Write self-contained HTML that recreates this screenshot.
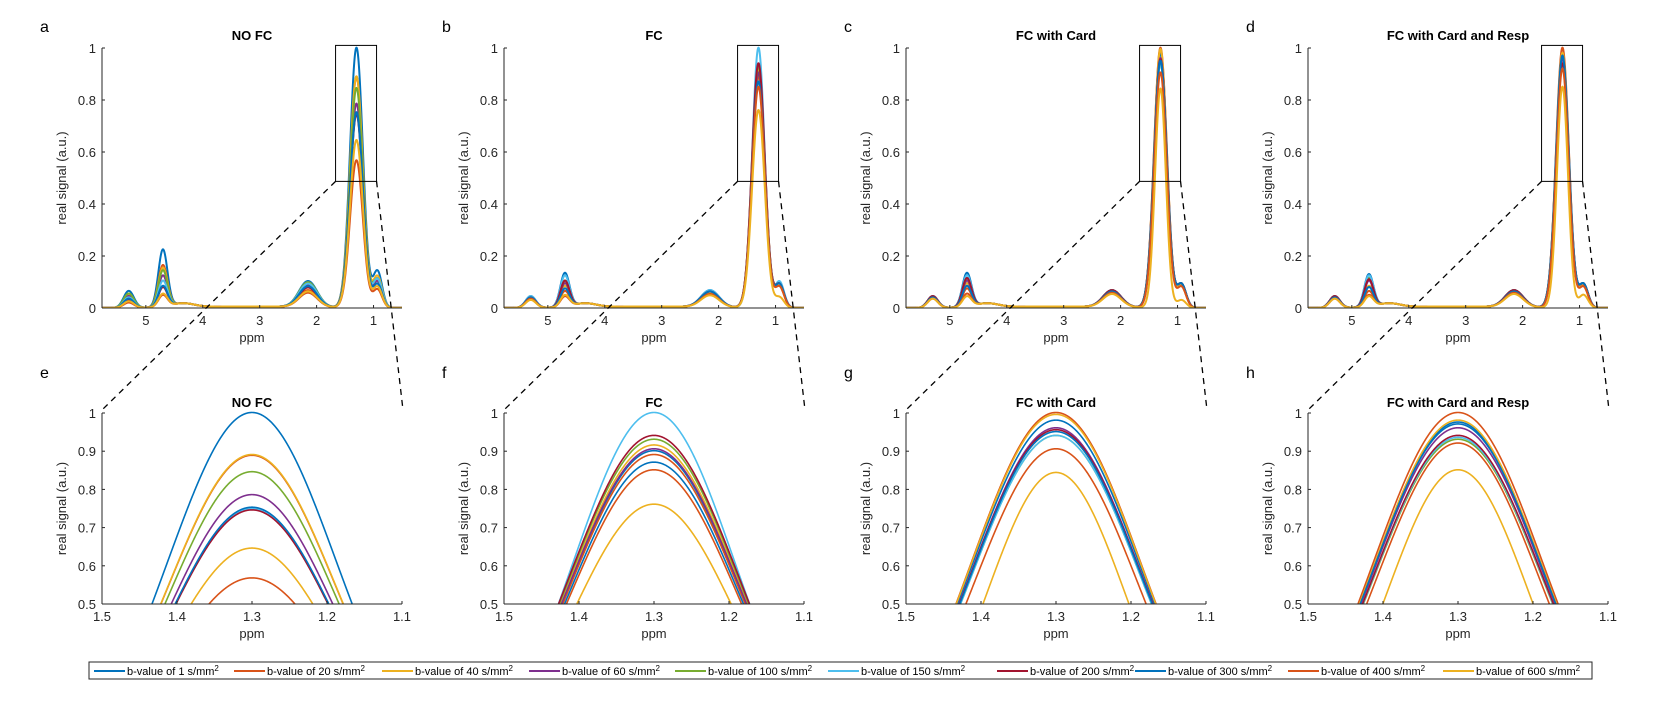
<!DOCTYPE html>
<html><head><meta charset="utf-8"><style>
html,body{margin:0;padding:0;background:#fff;width:1658px;height:720px;overflow:hidden;}
svg{display:block;font-family:"Liberation Sans",Arial,sans-serif;}
</style></head><body>
<svg id="fig" width="1658" height="720" viewBox="0 0 1658 720"></svg>
<script>
// ===== data =====
const panelTitles = ["NO FC","FC","FC with Card","FC with Card and Resp"];
const topLetters = ["a","b","c","d"];
const botLetters = ["e","f","g","h"];
const seriesLabels = ["1","20","40","60","100","150","200","300","400","600"];
const seriesColors = ["#0072BD","#D95319","#EDB120","#7E2F8E","#77AC30","#4DBEEE","#A2142F","#0072BD","#D95319","#EDB120"];
// main peak (1.3 ppm) heights per panel
const mainA = [1.0,0.888,0.89,0.785,0.845,0.748,0.745,0.752,0.567,0.645];
const mainB = [0.90,0.89,0.915,0.905,0.93,1.0,0.94,0.87,0.85,0.76];
const mainC = [0.98,1.0,0.995,0.96,0.94,0.94,0.955,0.95,0.905,0.843];
const mainD = [0.975,1.0,0.98,0.96,0.93,0.935,0.94,0.97,0.92,0.85];
// main peak widths (sigma, ppm)
const sigA = [0.113,0.113,0.113,0.113,0.113,0.113,0.113,0.113,0.113,0.113];
const sigB = [0.113,0.113,0.113,0.113,0.113,0.108,0.113,0.113,0.113,0.112];
const sigC = [0.113,0.113,0.113,0.113,0.113,0.113,0.113,0.113,0.11,0.095];
const sigD = [0.113,0.113,0.113,0.113,0.113,0.113,0.113,0.113,0.11,0.097];
// minor peaks: 5.3, 4.7, 2.15, 0.95 ppm
const p535A = [0.065,0.03,0.05,0.045,0.055,0.04,0.03,0.035,0.02,0.025];
const p47A  = [0.22,0.16,0.15,0.12,0.14,0.10,0.075,0.08,0.045,0.05];
const p215A = [0.10,0.065,0.095,0.085,0.095,0.09,0.075,0.08,0.055,0.06];
const p09A  = [0.14,0.11,0.12,0.10,0.11,0.11,0.09,0.09,0.07,0.08];
const p535B = [0.045,0.035,0.04,0.04,0.04,0.045,0.04,0.04,0.035,0.03];
const p47B  = [0.13,0.06,0.08,0.09,0.10,0.12,0.10,0.07,0.04,0.045];
const p215B = [0.065,0.055,0.055,0.06,0.06,0.065,0.06,0.06,0.05,0.045];
const p09B  = [0.09,0.09,0.08,0.09,0.09,0.1,0.09,0.09,0.08,0.04];
const p535C = [0.045,0.04,0.04,0.045,0.045,0.045,0.045,0.04,0.035,0.035];
const p47C  = [0.13,0.07,0.09,0.10,0.11,0.12,0.11,0.08,0.05,0.04];
const p215C = [0.065,0.06,0.06,0.065,0.065,0.065,0.065,0.06,0.055,0.05];
const p09C  = [0.09,0.08,0.08,0.09,0.09,0.09,0.09,0.09,0.08,0.03];
const p535D = [0.045,0.04,0.04,0.045,0.045,0.045,0.045,0.04,0.035,0.035];
const p47D  = [0.125,0.06,0.08,0.10,0.11,0.12,0.105,0.075,0.045,0.04];
const p215D = [0.065,0.06,0.06,0.065,0.065,0.065,0.065,0.06,0.055,0.05];
const p09D  = [0.09,0.08,0.08,0.09,0.09,0.09,0.09,0.09,0.08,0.05];
const topXTicks = [5,4,3,2,1];
const topYTicks = [0,0.2,0.4,0.6,0.8,1];
const botXTicks = [1.5,1.4,1.3,1.2,1.1];
const botYTicks = [0.5,0.6,0.7,0.8,0.9,1];
// ===== layout =====
const NS="http://www.w3.org/2000/svg";
const svg=document.getElementById("fig");
const mains=[mainA,mainB,mainC,mainD], sigs=[sigA,sigB,sigC,sigD];
const p535=[p535A,p535B,p535C,p535D], p47=[p47A,p47B,p47C,p47D], p215=[p215A,p215B,p215C,p215D], p09=[p09A,p09B,p09C,p09D];
const lefts=[102,504,906,1308], W=300;
const T={top:48,bot:308,x0:5.77,x1:0.5,y0:0,y1:1};
const B={top:413,bot:604,x0:1.5,x1:1.1,y0:0.5,y1:1};
function el(tag,attrs,parent){const e=document.createElementNS(NS,tag);for(const k in attrs)e.setAttribute(k,attrs[k]);(parent||svg).appendChild(e);return e;}
function txt(s,attrs,parent){const t=el("text",attrs,parent);t.textContent=s;return t;}
function spec(p,i,x){
  const g=(a,c,s)=>a*Math.exp(-(x-c)*(x-c)/(2*s*s));
  return g(mains[p][i],1.3,sigs[p][i])+g(p535[p][i],5.3,0.09)+g(p47[p][i],4.7,0.08)+g(p215[p][i],2.15,0.16)+g(p09[p][i],0.93,0.08)+g(0.015,4.35,0.2)+g(0.01,3.2,1.1)*0.6;
}
function drawAxes(p,A,xt,yt,title,letter,lw,kind){
  const L=lefts[p];
  const sx=v=>L+(A.x0-v)/(A.x0-A.x1)*W;
  const sy=v=>A.bot-(v-A.y0)/(A.y1-A.y0)*(A.bot-A.top);
  const g=el("g",{});
  
  
  const cid="clip"+kind+p;
  const cp=el("clipPath",{id:cid},g);el("rect",{x:L,y:A.top-3,width:W,height:A.bot-A.top+3},cp);
  const cg=el("g",{"clip-path":"url(#"+cid+")"},g);
  const yMin=A.y0-0.02*(A.y1-A.y0);
  for(let i=0;i<10;i++){
    let d="";
    for(let k=0;k<=1200;k++){const x=A.x0+(A.x1-A.x0)*k/1200;const y=Math.max(yMin,spec(p,i,x));d+=(k?"L":"M")+sx(x).toFixed(2)+","+sy(y).toFixed(2);}
    const path=el("path",{d:d,fill:"none",stroke:seriesColors[i],"stroke-width":lw,"stroke-linejoin":"round"},cg);
    
    
  }
  el("line",{x1:L,y1:A.top,x2:L,y2:A.bot,stroke:"#262626","stroke-width":1},g);
  el("line",{x1:L,y1:A.bot,x2:L+W,y2:A.bot,stroke:"#262626","stroke-width":1},g);
  xt.forEach(v=>{el("line",{x1:sx(v),y1:A.bot,x2:sx(v),y2:A.bot-3,stroke:"#262626"},g);
    const t=txt(String(v),{x:sx(v),y:A.bot+17,"text-anchor":"middle","font-size":13,fill:"#262626"},g);
    });
  yt.forEach(v=>{el("line",{x1:L,y1:sy(v),x2:L+3,y2:sy(v),stroke:"#262626"},g);
    const t=txt(String(v),{x:L-6,y:sy(v)+5,"text-anchor":"end","font-size":13,fill:"#262626"},g);
    });
  const xl=txt("ppm",{x:L+W/2,y:A.bot+34,"text-anchor":"middle","font-size":13,fill:"#262626"},g);
  
  const yc=(A.top+A.bot)/2;
  const yl=txt("real signal (a.u.)",{x:L-36,y:yc,"text-anchor":"middle","font-size":13,fill:"#262626",transform:"rotate(-90 "+(L-36)+" "+yc+")"},g);
  
  const tt=txt(title,{x:L+W/2,y:kind==="top"?40:407,"text-anchor":"middle","font-size":13,"font-weight":"bold",fill:"#000"},g);
  
  const lt=txt(letter,{x:L-62,y:kind==="top"?32:378,"font-size":16,fill:"#000"},g);
  
  return {sx,sy};
}
for(let p=0;p<4;p++){
  const t=drawAxes(p,T,topXTicks,topYTicks,panelTitles[p],topLetters[p],2,"top");
  drawAxes(p,B,botXTicks,botYTicks,panelTitles[p],botLetters[p],1.6,"bottom");
  const bx0=t.sx(1.667),bx1=t.sx(0.947),by0=t.sy(0.487),by1=t.sy(1.01);
  const r=el("rect",{x:bx0,y:by1,width:bx1-bx0,height:by0-by1,fill:"none",stroke:"#000","stroke-width":1});
  
  const d1=el("line",{x1:bx0,y1:by0,x2:lefts[p],y2:B.top-3,stroke:"#000","stroke-width":1.3,"stroke-dasharray":"6,5"});
  
  const d2=el("line",{x1:bx1,y1:by0,x2:lefts[p]+W+1,y2:B.top-3,stroke:"#000","stroke-width":1.3,"stroke-dasharray":"6,5"});
  
}
// legend
const lg=el("g",{});

el("rect",{x:89,y:662,width:1503,height:17,fill:"#fff",stroke:"#262626","stroke-width":1},lg);
const legX=[94,234,382,529,675,828,997,1135,1288,1443];
for(let i=0;i<10;i++){
  const e=el("g",{},lg);
  
  
  el("line",{x1:legX[i],y1:671,x2:legX[i]+31,y2:671,stroke:seriesColors[i],"stroke-width":2},e);
  const t=el("text",{x:legX[i]+33,y:675,"font-size":11,fill:"#000"},e);
  t.textContent="b-value of "+seriesLabels[i]+" s/mm";
  const s=el("tspan",{dy:-4,"font-size":8},t);s.textContent="2";
}
</script>
</body></html>
